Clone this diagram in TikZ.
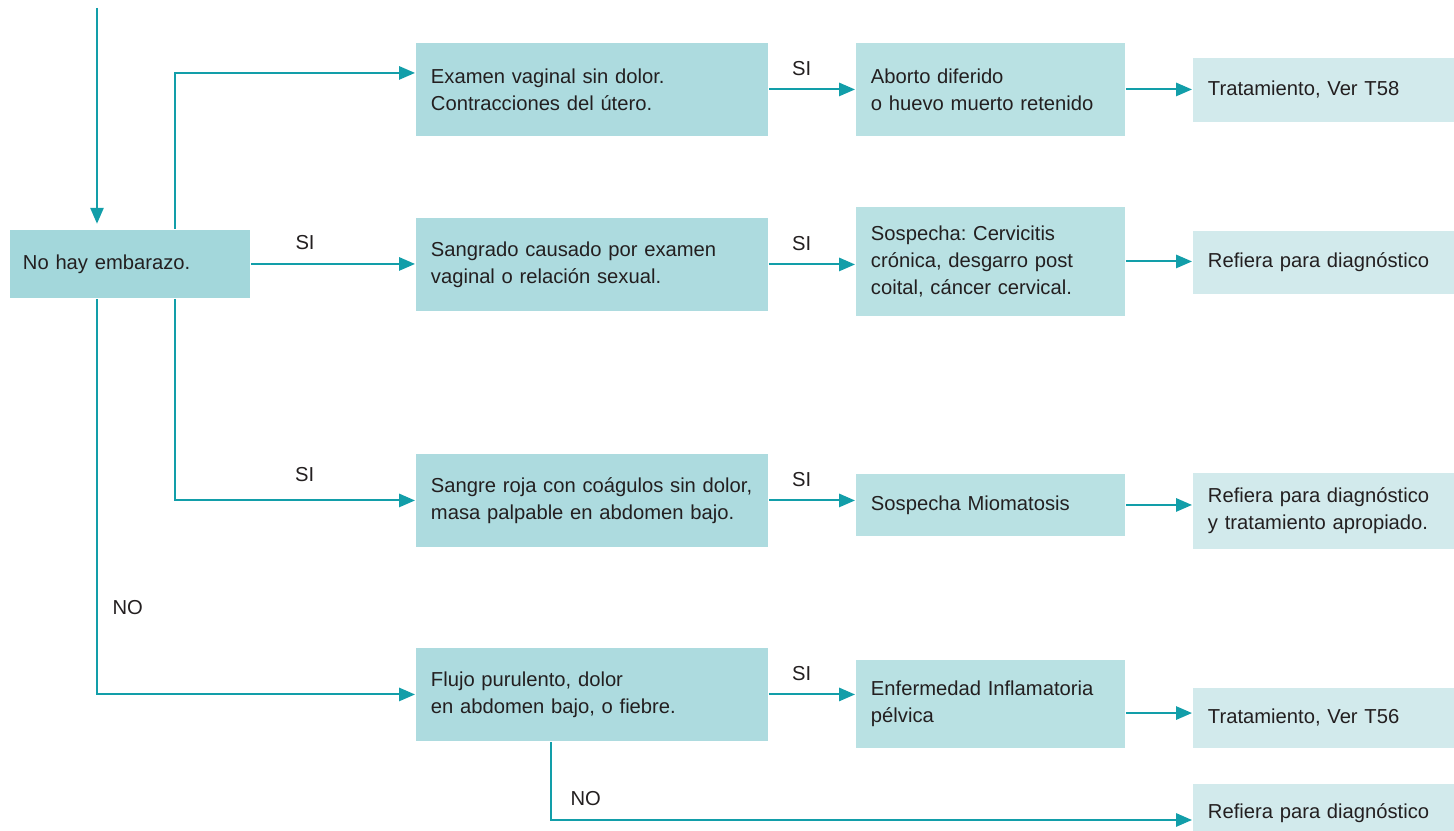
\documentclass[tikz,border=0pt]{standalone}
\usepackage{fontspec}
\setmainfont{Liberation Sans}
\usetikzlibrary{arrows.meta, positioning}
\definecolor{lnk}{HTML}{129EA9}
\definecolor{fa}{HTML}{A3D7DB}
\definecolor{fb}{HTML}{ADDBDF}
\definecolor{fc}{HTML}{B9E1E3}
\definecolor{fd}{HTML}{D2EAEC}
\definecolor{txt}{HTML}{231F20}
\frenchspacing

\begin{document}
\begin{tikzpicture}[x=0.02cm, y=-0.02cm, >={Triangle[length=9pt, width=7.5pt]},
  font=\fontsize{11.5}{15.5}\selectfont, color=lnk, text=txt, line width=1.1pt,
  b/.style={fill=#1, anchor=north west, align=left, inner xsep=0.3cm, inner ysep=0pt},
  q/.style={b=fb, text width=6.44cm, minimum height=1.86cm},
  r/.style={b=fc, text width=4.78cm},
  t/.style={b=fd, text width=4.64cm},
  lab/.style={font=\fontsize{11.5}{13}\selectfont}]
\clip (0,0) rectangle (1454,831);
% first column
\node[b=fa, text width=4.28cm, inner xsep=0.26cm, minimum height=1.36cm] (A) at (9,229) {No hay embarazo.};
% second column
\node[q] (B1) at (415,42) {Examen vaginal sin dolor.\\Contracciones del útero.};
\node[q] (B2) at (415,217) {Sangrado causado por examen\\vaginal o relación sexual.};
\node[q] (B3) at (415,453) {Sangre roja con coágulos sin dolor,\\masa palpable en abdomen bajo.};
\node[q] (B4) at (415,647) {Flujo purulento, dolor\\en abdomen bajo, o fiebre.};
% third column
\node[r, minimum height=1.86cm] (C1) at (855,42) {Aborto diferido\\o huevo muerto retenido};
\node[r, minimum height=2.18cm] (C2) at (855,206) {Sospecha: Cervicitis\\crónica, desgarro post\\coital, cáncer cervical.};
\node[r, minimum height=1.24cm] (C3) at (855,473) {Sospecha Miomatosis};
\node[r, minimum height=1.76cm] (C4) at (855,659) {Enfermedad Inflamatoria\\pélvica};
% fourth column
\node[t, minimum height=1.28cm] (D1) at (1192,57) {Tratamiento, Ver T58};
\node[t, minimum height=1.26cm] (D2) at (1192,230) {Refiera para diagnóstico};
\node[t, minimum height=1.52cm] (D3) at (1192,472) {Refiera para diagnóstico\\y tratamiento apropiado.};
\node[t, minimum height=1.2cm] (D4) at (1192,687) {Tratamiento, Ver T56};
\node[t, minimum height=1.16cm] (D5) at (1192,783) {Refiera para diagnóstico};

\coordinate (top) at (97,8);
\coordinate (c) at (175,0);
\coordinate (d) at (551,0);

\draw[->, shorten >=3pt] (top) -- (top |- A.north);
\draw[->] (A.north -| c) |- ([yshift=9.4pt]B1.west);
\draw[->] (A.east) -- node[lab, above=4pt, pos=.33] {SI} (A.east -| B2.west);
\draw[->] (A.south -| c) |- node[lab, above=7pt, pos=.77] {SI} (B3.west);
\draw[->] (A.south -| top) |- node[lab, right=5pt, pos=.39] {NO} (B4.west);

\draw[->] (B1.east) -- node[lab, above=4pt, pos=.38] {SI} (B1.east -| C1.west);
\draw[->] (B2.east) -- node[lab, above=4pt, pos=.38] {SI} (B2.east -| C2.west);
\draw[->] (B3.east) -- node[lab, above=4pt, pos=.38] {SI} (B3.east -| C3.west);
\draw[->] (B4.east) -- node[lab, above=4pt, pos=.38] {SI} (B4.east -| C4.west);
\draw[->] (B4.south -| d) |- node[lab, above right=4.5pt and 0pt, pos=.51] {NO} ([yshift=-4pt]D5.west);

\draw[->] (C1.east) -- (C1.east -| D1.west);
\draw[->] (C2.east) -- (C2.east -| D2.west);
\draw[->] (C3.east) -- (C3.east -| D3.west);
\draw[->] ([yshift=2.8pt]C4.east |- D4.west) -- ([yshift=2.8pt]D4.west);
\end{tikzpicture}
\end{document}
